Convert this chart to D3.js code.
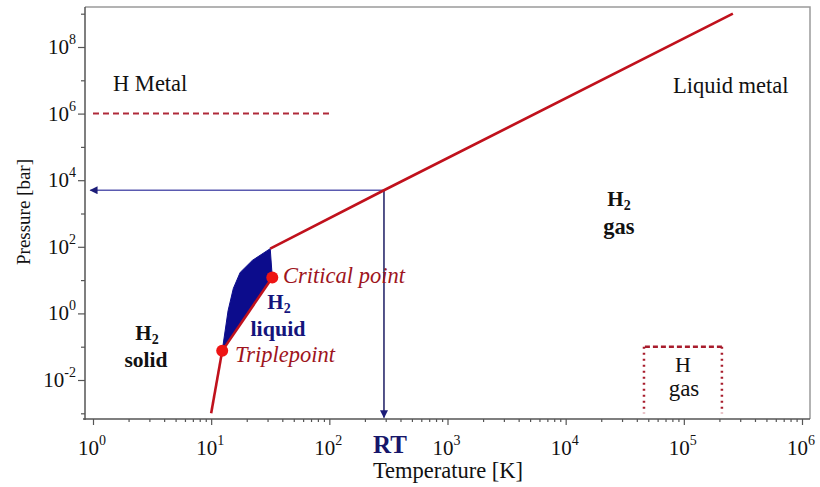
<!DOCTYPE html>
<html><head><meta charset="utf-8">
<script src="https://cdn.jsdelivr.net/npm/d3@7"></script>
<style>
body{margin:0;background:#fff}
svg{display:block}
text{font-family:"Liberation Serif","Times New Roman",serif}
</style>
</head><body>
<svg id="chart" width="820" height="487"></svg>
<script>
// Phase diagram of hydrogen: pressure vs temperature on log-log axes

// axis decades (exponents of 10)
const xTickExps = [0, 1, 2, 3, 4, 5, 6];
const yTickExps = [-2, 0, 2, 4, 6, 8];
const yMinorExps = [-3, -1, 1, 3, 5, 7, 9];

// phase boundaries as [T in K, P in bar]
const sublimationCurve = [[10, 0.001], [12.4, 0.075]];
const vaporCurve = [[12.4, 0.075], [32.9, 12]];
const meltingCurve = [[12.4, 0.075], [13.9, 1.2], [15.4, 5.6], [17.6, 17], [22.3, 39], [31.6, 88]];
const fluidCurve = [[31.6, 88], [290, 5000], [2.6e5, 1.0e9]];

const triplePoint = [12.4, 0.075];
const criticalPoint = [32.9, 12];
const roomTemp = [290, 5000];          // RT on the fluid boundary
const arrowEnds = {T: 0.95, P: 7.5e-4}; // where the RT guide arrows stop

const metalLine = {P: 1e6, T0: 1, T1: 100};
const atomicGasBox = {T0: 4.6e4, T1: 2.1e5, P0: 0.001, P1: 0.1};

const svg = d3.select("#chart");

const x = d3.scaleLog().domain([1, 1e6]).range([93, 802]);
const y = d3.scaleLog().domain([1e-2, 1e8]).range([380, 47]);

const plot = {left: 85, right: 810, top: 7, bottom: 419};

const RED = "#c0111c", DARKRED = "#9e1420", NAVY = "#14147c";

// frame
svg.append("path")
  .attr("d", `M${plot.left},${plot.top}H${plot.right}V${plot.bottom}`)
  .attr("fill", "none").attr("stroke", "#9a9a9a").attr("stroke-width", 1.5);

// x axis: majors + minor (2..9) ticks
const xMinor = [];
xTickExps.slice(0, -1).forEach(e => { for (let k = 2; k <= 9; k++) xMinor.push(k * Math.pow(10, e)); });
const xAxisG = svg.append("g").attr("transform", `translate(0,${plot.bottom})`);
xAxisG.append("g").call(d3.axisBottom(x).tickValues(xTickExps.map(e => Math.pow(10, e))).tickSize(6).tickFormat("").tickSizeOuter(0));
xAxisG.append("g").call(d3.axisBottom(x).tickValues(xMinor).tickSize(3).tickFormat("").tickSizeOuter(0));
xAxisG.selectAll(".domain").remove();
xAxisG.selectAll("line").attr("stroke", "#555").attr("stroke-width", 1.2);
svg.append("line").attr("x1", plot.left - 2).attr("x2", plot.right).attr("y1", plot.bottom).attr("y2", plot.bottom)
  .attr("stroke", "#555").attr("stroke-width", 1.5);

// y axis
const yAxisG = svg.append("g").attr("transform", `translate(${plot.left},0)`);
yAxisG.append("g").call(d3.axisLeft(y).tickValues(yTickExps.map(e => Math.pow(10, e))).tickSize(7).tickFormat("").tickSizeOuter(0));
yAxisG.append("g").call(d3.axisLeft(y).tickValues(yMinorExps.map(e => Math.pow(10, e))).tickSize(4).tickFormat("").tickSizeOuter(0));
yAxisG.selectAll(".domain").remove();
yAxisG.selectAll("line").attr("stroke", "#555").attr("stroke-width", 1.2);
svg.append("line").attr("x1", plot.left).attr("x2", plot.left).attr("y1", plot.top).attr("y2", plot.bottom + 1)
  .attr("stroke", "#555").attr("stroke-width", 1.5);

// power-of-ten labels
function powerLabel(g, exp) {
  g.append("tspan").text("10").attr("font-size", 21);
  g.append("tspan").text(String(exp)).attr("font-size", 14).attr("dy", -10);
}
xTickExps.forEach(e => {
  const t = svg.append("text").attr("x", x(Math.pow(10, e)) - 1).attr("y", 455)
    .attr("text-anchor", "middle").attr("fill", "#111");
  powerLabel(t, e);
});
yTickExps.forEach(e => {
  const t = svg.append("text").attr("x", 76).attr("y", y(Math.pow(10, e)) + 7)
    .attr("text-anchor", "end").attr("fill", "#111");
  powerLabel(t, e);
});

// axis titles
svg.append("text").attr("x", 448).attr("y", 478).attr("text-anchor", "middle")
  .attr("font-size", 22.5).attr("fill", "#111").text("Temperature [K]");
svg.append("text").attr("transform", "translate(30,212) rotate(-90)").attr("text-anchor", "middle")
  .attr("font-size", 19).attr("fill", "#111").text("Pressure [bar]");

const line = d3.line().x(d => x(d[0])).y(d => y(d[1]));

// H metal boundary (dashed) and atomic-gas region (dotted box)
svg.append("path").attr("d", line([[metalLine.T0, metalLine.P], [metalLine.T1, metalLine.P]]))
  .attr("fill", "none").attr("stroke", "#b02a3a").attr("stroke-width", 2).attr("stroke-dasharray", "6,4");
svg.append("path").attr("d", line([[atomicGasBox.T1, atomicGasBox.P1], [atomicGasBox.T0, atomicGasBox.P1]]))
  .attr("fill", "none").attr("stroke", "#a81c2c").attr("stroke-width", 2.5).attr("stroke-dasharray", "5,3");
[atomicGasBox.T0, atomicGasBox.T1].forEach(T => {
  svg.append("path").attr("d", line([[T, atomicGasBox.P1], [T, atomicGasBox.P0]]))
    .attr("fill", "none").attr("stroke", "#a81c2c").attr("stroke-width", 2.5).attr("stroke-dasharray", "2,4");
});

// liquid region
const liquidPoly = meltingCurve.concat([criticalPoint]);
svg.append("path").attr("d", d3.line().x(d => x(d[0])).y(d => y(d[1])).curve(d3.curveLinearClosed)(liquidPoly))
  .attr("fill", "#0c0c8c").attr("stroke", "#0c0c8c").attr("stroke-width", 1);

// RT guide arrows
const defs = svg.append("defs");
defs.append("marker").attr("id", "head").attr("viewBox", "0 0 10 10").attr("refX", 9).attr("refY", 5)
  .attr("markerWidth", 10).attr("markerHeight", 8).attr("markerUnits", "userSpaceOnUse").attr("orient", "auto")
  .append("path").attr("d", "M0,0L10,5L0,10Z").attr("fill", "#1c1c78");
svg.append("path").attr("d", line([roomTemp, [arrowEnds.T, roomTemp[1]]]))
  .attr("stroke", "#5a5ab0").attr("stroke-width", 1.6).attr("fill", "none").attr("marker-end", "url(#head)");
svg.append("path").attr("d", line([roomTemp, [roomTemp[0], arrowEnds.P]]))
  .attr("stroke", "#2a2a6c").attr("stroke-width", 1.6).attr("fill", "none").attr("marker-end", "url(#head)");

// phase boundary curves
[sublimationCurve, vaporCurve, fluidCurve].forEach(c => {
  svg.append("path").attr("d", line(c)).attr("fill", "none").attr("stroke", RED)
    .attr("stroke-width", 2.6).attr("stroke-linejoin", "round");
});

// triple and critical points
[triplePoint, criticalPoint].forEach(p => {
  svg.append("circle").attr("cx", x(p[0])).attr("cy", y(p[1])).attr("r", 6).attr("fill", "#ee1414");
});

// labels
function label(px, py, txt, opts) {
  const t = svg.append("text").attr("x", px).attr("y", py)
    .attr("font-size", opts.size || 21).attr("fill", opts.color || "#111")
    .attr("font-weight", opts.bold ? "bold" : "normal")
    .attr("font-style", opts.italic ? "italic" : "normal")
    .attr("text-anchor", opts.anchor || "start");
  if (opts.sub) {
    t.append("tspan").text(txt);
    t.append("tspan").text(opts.sub).attr("font-size", 14).attr("dy", 4);
  } else t.text(txt);
  return t;
}
label(113, 91, "H Metal", {size: 22.5});
label(673, 93, "Liquid metal", {size: 22.5});
label(147, 340, "H", {bold: true, sub: "2", anchor: "middle", size: 21});
label(146, 367, "solid", {bold: true, anchor: "middle", size: 21.5});
label(279, 309, "H", {bold: true, sub: "2", anchor: "middle", size: 21, color: NAVY});
label(278, 336, "liquid", {bold: true, anchor: "middle", size: 22, color: NAVY});
label(619, 206, "H", {bold: true, sub: "2", anchor: "middle", size: 21});
label(619, 234, "gas", {bold: true, anchor: "middle", size: 22.5});
label(683, 372, "H", {anchor: "middle", size: 22});
label(684, 396, "gas", {anchor: "middle", size: 23});
label(283, 283, "Critical point", {italic: true, size: 22.5, color: DARKRED});
label(235, 362, "Triplepoint", {italic: true, size: 22.5, color: DARKRED});
label(x(roomTemp[0]) + 6, 453, "RT", {bold: true, anchor: "middle", size: 25, color: "#16166a"});
</script>
</body></html>
